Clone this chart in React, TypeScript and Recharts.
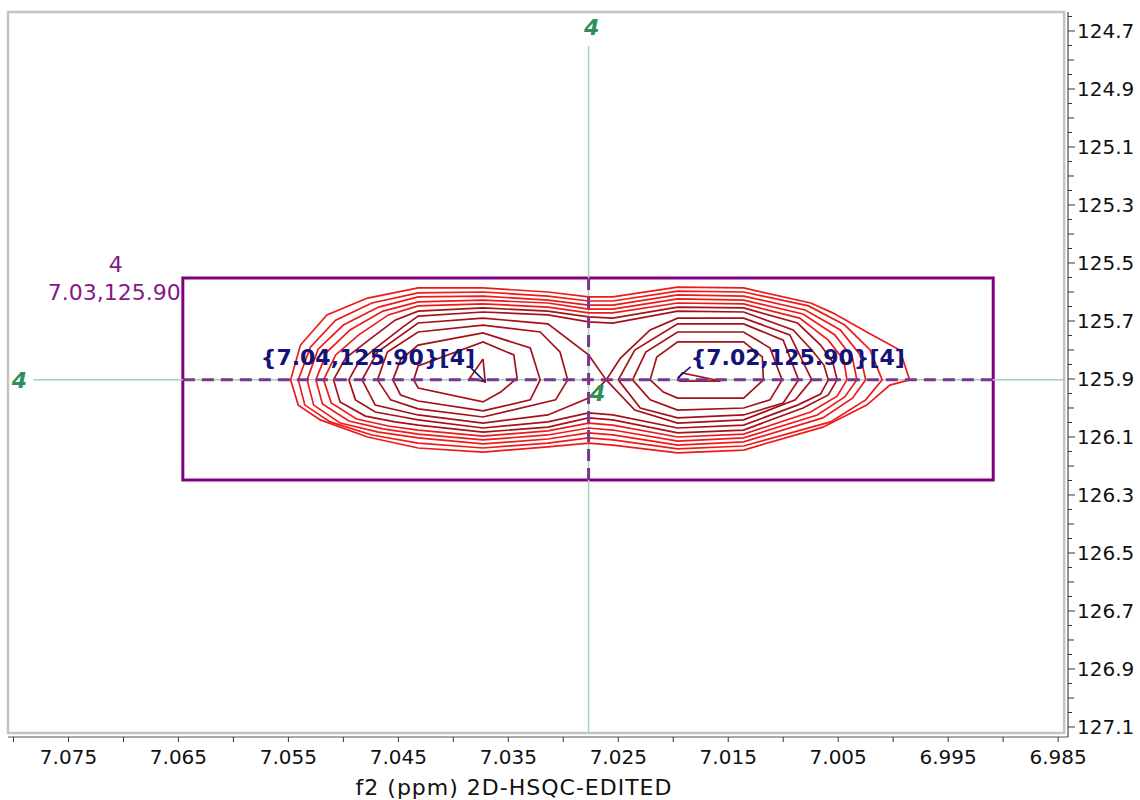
import React from 'react';
import {
  ComposedChart, Line, XAxis, YAxis, ReferenceLine, ReferenceArea, ReferenceDot,
} from 'recharts';

type Pt = [number, number];

// axis ticks (ppm)
const X_LABELS = [7.075, 7.065, 7.055, 7.045, 7.035, 7.025, 7.015, 7.005, 6.995, 6.985];
const X_MINOR = [7.08, 7.07, 7.06, 7.05, 7.04, 7.03, 7.02, 7.01, 7.0, 6.99];
const Y_LABELS = [124.7, 124.9, 125.1, 125.3, 125.5, 125.7, 125.9, 126.1, 126.3, 126.5, 126.7, 126.9, 127.1];
const X_DOMAIN = [6.9841, 7.0805];
const Y_DOMAIN = [124.6345, 127.1345];
const FRAME_X = [7.0805, 6.98445];
const FRAME_Y = [124.6345, 127.1207];

// peak picking / integration region
const CROSS_X = 7.0277;
const CROSS_Y = 125.903;
const BOX_X = [7.0646, 6.9909];
const BOX_Y = [125.552, 126.248];
const BOX_LABEL = ['4', '7.03,125.90'];
const PEAK_X = [7.0373, 7.0196];
const PEAK_Y = [125.903, 125.903];
const PEAK_LABELS = ['{7.04,125.90}[4]', '{7.02,125.90}[4]'];

// contour levels, outer to inner (f2 ppm, f1 ppm)
const S1: Pt[] = [[7.0548,125.903],[7.0539,125.783],[7.0515,125.679],[7.0478,125.621],[7.0432,125.586],[7.0373,125.586],[7.0314,125.600],[7.0277,125.617],[7.0255,125.617],[7.0196,125.583],[7.0136,125.586],[7.0075,125.638],[7.0055,125.672],[7.0024,125.738],[6.9994,125.800],[6.9985,125.903],[7.0003,125.921],[7.0024,125.990],[7.0064,126.066],[7.0136,126.145],[7.0196,126.155],[7.0255,126.128],[7.0277,126.121],[7.0314,126.134],[7.0373,126.152],[7.0432,126.138],[7.0478,126.100],[7.0521,126.041],[7.0541,125.990]];
const S2: Pt[] = [[7.0541,125.903],[7.0530,125.790],[7.0507,125.697],[7.0474,125.638],[7.0432,125.603],[7.0373,125.600],[7.0314,125.614],[7.0277,125.631],[7.0255,125.631],[7.0196,125.597],[7.0136,125.600],[7.0077,125.648],[7.0044,125.714],[7.0021,125.800],[7.0010,125.903],[7.0025,125.972],[7.0057,126.048],[7.0136,126.131],[7.0196,126.141],[7.0255,126.110],[7.0277,126.103],[7.0314,126.121],[7.0373,126.138],[7.0432,126.121],[7.0474,126.093],[7.0512,126.048],[7.0535,125.990]];
const S3: Pt[] = [[7.0533,125.903],[7.0523,125.797],[7.0500,125.714],[7.0468,125.652],[7.0432,125.617],[7.0373,125.614],[7.0314,125.628],[7.0277,125.645],[7.0255,125.645],[7.0196,125.610],[7.0136,125.614],[7.0080,125.662],[7.0048,125.731],[7.0030,125.817],[7.0025,125.903],[7.0037,125.966],[7.0064,126.034],[7.0136,126.117],[7.0196,126.128],[7.0255,126.093],[7.0277,126.086],[7.0314,126.107],[7.0373,126.124],[7.0432,126.103],[7.0468,126.083],[7.0503,126.052],[7.0527,125.990]];
const S4: Pt[] = [[7.0525,125.903],[7.0515,125.807],[7.0494,125.731],[7.0464,125.666],[7.0432,125.634],[7.0373,125.628],[7.0314,125.638],[7.0277,125.659],[7.0255,125.659],[7.0196,125.624],[7.0136,125.628],[7.0082,125.676],[7.0053,125.748],[7.0037,125.828],[7.0033,125.903],[7.0044,125.962],[7.0069,126.024],[7.0136,126.103],[7.0196,126.114],[7.0255,126.076],[7.0277,126.069],[7.0314,126.093],[7.0373,126.110],[7.0432,126.090],[7.0464,126.072],[7.0495,126.045],[7.0519,125.986]];
const S5: Pt[] = [[7.0518,125.903],[7.0507,125.817],[7.0486,125.748],[7.0459,125.679],[7.0432,125.648],[7.0373,125.641],[7.0314,125.652],[7.0277,125.672],[7.0255,125.672],[7.0196,125.638],[7.0136,125.641],[7.0085,125.690],[7.0059,125.766],[7.0045,125.834],[7.0042,125.903],[7.0051,125.959],[7.0075,126.014],[7.0136,126.090],[7.0196,126.100],[7.0255,126.059],[7.0277,126.052],[7.0314,126.079],[7.0373,126.097],[7.0432,126.076],[7.0459,126.062],[7.0488,126.038],[7.0511,125.983]];
const S6: Pt[] = [[7.0509,125.903],[7.0498,125.828],[7.0477,125.766],[7.0453,125.697],[7.0432,125.666],[7.0373,125.655],[7.0314,125.666],[7.0277,125.686],[7.0255,125.690],[7.0196,125.652],[7.0136,125.655],[7.0087,125.707],[7.0066,125.783],[7.0055,125.841],[7.0051,125.903],[7.0059,125.955],[7.0082,126.000],[7.0136,126.076],[7.0196,126.086],[7.0255,126.041],[7.0277,126.034],[7.0314,126.066],[7.0373,126.083],[7.0432,126.059],[7.0453,126.048],[7.0480,126.028],[7.0503,125.979]];
const S7: Pt[] = [[7.0495,125.903],[7.0486,125.841],[7.0468,125.786],[7.0446,125.721],[7.0432,125.683],[7.0373,125.669],[7.0314,125.679],[7.0277,125.703],[7.0255,125.707],[7.0196,125.666],[7.0136,125.669],[7.0091,125.731],[7.0074,125.800],[7.0063,125.852],[7.0059,125.903],[7.0066,125.952],[7.0087,125.990],[7.0136,126.059],[7.0196,126.069],[7.0255,126.024],[7.0277,126.017],[7.0314,126.048],[7.0373,126.069],[7.0432,126.041],[7.0446,126.031],[7.0471,126.014],[7.0489,125.972]];
// saddle level (figure eight)
const SADDLE: Pt[] = [[7.0261,125.903],[7.0277,125.817],[7.0314,125.710],[7.0373,125.690],[7.0432,125.707],[7.0469,125.807],[7.0483,125.903],[7.0471,125.990],[7.0432,126.024],[7.0373,126.052],[7.0314,126.024],[7.0277,125.966],[7.0261,125.903],[7.0248,125.828],[7.0221,125.731],[7.0196,125.690],[7.0136,125.690],[7.0094,125.748],[7.0074,125.903],[7.0089,125.972],[7.0136,126.041],[7.0196,126.052],[7.0235,126.007]];
// left peak
const P1A: Pt[] = [[7.0469,125.903],[7.0460,125.807],[7.0432,125.738],[7.0373,125.714],[7.0321,125.738],[7.0303,125.807],[7.0296,125.903],[7.0307,125.972],[7.0373,126.031],[7.0432,126.003],[7.0457,125.972]];
const P1B: Pt[] = [[7.0455,125.903],[7.0448,125.834],[7.0432,125.783],[7.0373,125.741],[7.0330,125.793],[7.0321,125.903],[7.0330,125.972],[7.0373,126.010],[7.0432,125.976],[7.0448,125.955]];
const P1C: Pt[] = [[7.0436,125.903],[7.0432,125.855],[7.0373,125.772],[7.0345,125.817],[7.0342,125.897],[7.0357,125.945],[7.0373,125.979],[7.0432,125.931]];
const P1D: Pt[] = [[7.0373,125.831],[7.0385,125.897],[7.0371,125.910]];
// right peak
const P2A: Pt[] = [[7.0250,125.903],[7.0235,125.800],[7.0196,125.710],[7.0136,125.710],[7.0100,125.766],[7.0086,125.903],[7.0100,125.983],[7.0136,126.024],[7.0196,126.034],[7.0230,126.000]];
const P2B: Pt[] = [[7.0237,125.903],[7.0225,125.807],[7.0196,125.738],[7.0136,125.738],[7.0112,125.793],[7.0101,125.903],[7.0112,125.972],[7.0136,126.000],[7.0196,126.007],[7.0221,125.972]];
const P2C: Pt[] = [[7.0221,125.903],[7.0215,125.824],[7.0196,125.772],[7.0136,125.772],[7.0119,125.824],[7.0118,125.903],[7.0136,125.966],[7.0196,125.966],[7.0209,125.945]];
const P2D: Pt[] = [[7.0196,125.903],[7.0192,125.879],[7.0157,125.907],[7.0194,125.907]];

const LIGHT = '#ee1a1a';
const DARK = '#a3121a';

const CONTOURS: { pts: Pt[]; color: string }[] = [
  { pts: S1, color: LIGHT }, { pts: S2, color: LIGHT }, { pts: S3, color: LIGHT },
  { pts: S4, color: LIGHT }, { pts: S5, color: LIGHT }, { pts: S6, color: DARK },
  { pts: S7, color: DARK }, { pts: SADDLE, color: DARK },
  { pts: P1A, color: DARK }, { pts: P1B, color: DARK }, { pts: P1C, color: DARK }, { pts: P1D, color: DARK },
  { pts: P2A, color: DARK }, { pts: P2B, color: DARK }, { pts: P2C, color: DARK }, { pts: P2D, color: DARK },
];

const FONT = '"DejaVu Sans", Verdana, sans-serif';
const GREEN = '#2f8f5b';
const PURPLE = '#851a85';
const NAVY = '#13137a';

const near = (a: number, list: number[]) => list.some((v) => Math.abs(v - a) < 1e-6);

const Y_MINOR = Y_LABELS.flatMap((m) => [m - 0.05, m + 0.05, m + 0.1, m + 0.15])
  .filter((v) => v > Y_DOMAIN[0] && v < Y_DOMAIN[1]);

const XTick = (p: any) => {
  const v = p.payload.value;
  const lab = near(v, X_LABELS);
  return (
    <g>
      <line x1={p.x} x2={p.x} y1={p.y} y2={p.y + 5} stroke="#333" />
      {lab && (
        <text x={p.x} y={p.y + 27} textAnchor="middle" fontSize={20} fontFamily={FONT} fill="#111">
          {v.toFixed(3)}
        </text>
      )}
    </g>
  );
};

const YTick = (p: any) => {
  const v = p.payload.value;
  const lab = near(v, Y_LABELS);
  const half = Math.abs(Math.round(v * 20) % 2) === 0;
  const len = lab ? 7 : half ? 6 : 4;
  return (
    <g>
      <line x1={p.x} x2={p.x + len} y1={p.y} y2={p.y} stroke="#333" />
      {lab && (
        <text x={p.x + 9} y={p.y + 7} textAnchor="start" fontSize={20} fontFamily={FONT} fill="#111">
          {v.toFixed(1)}
        </text>
      )}
    </g>
  );
};

const greenFour = (dx: number, dy: number) => (p: any) => (
  <text x={p.cx + dx} y={p.cy + dy} textAnchor="middle" fontSize={22} fontWeight="bold"
    fontStyle="italic" fontFamily={FONT} fill={GREEN}>4</text>
);

export default function App() {
  return (
    <div style={{ position: 'absolute', left: 0, top: 0, width: 1140, height: 800, background: '#fff' }}>
      <ComposedChart width={1140} height={800} margin={{ top: 12, right: 2, bottom: 5, left: 8 }}>
        <XAxis
          type="number" dataKey="x" domain={X_DOMAIN} reversed allowDataOverflow
          ticks={[...X_LABELS, ...X_MINOR]} interval={0} height={58}
          tick={<XTick />} tickLine={false} tickSize={0} tickMargin={0}
          axisLine={{ stroke: '#555' }}
          label={{
            value: 'f2 (ppm) 2D-HSQC-EDITED',
            content: (lp: any) => (
              <text x={lp.viewBox.x + lp.viewBox.width / 2 - 24} y={lp.viewBox.y + 58} textAnchor="middle"
                fontSize={22} letterSpacing={1} fontFamily={FONT} fill="#111">f2 (ppm) 2D-HSQC-EDITED</text>
            ),
          }}
        />
        <YAxis
          type="number" dataKey="y" orientation="right" domain={Y_DOMAIN} reversed allowDataOverflow
          ticks={[...Y_LABELS, ...Y_MINOR]} interval={0} width={70}
          tick={<YTick />} tickLine={false} tickSize={0} tickMargin={0}
          axisLine={{ stroke: '#222' }}
        />
        <ReferenceArea x1={FRAME_X[0]} x2={FRAME_X[1]} y1={FRAME_Y[0]} y2={FRAME_Y[1]}
          fill="none" fillOpacity={0} stroke="#c4c4c4" strokeWidth={2.5} ifOverflow="visible" />
        <ReferenceLine segment={[{ x: CROSS_X, y: 124.752 }, { x: CROSS_X, y: FRAME_Y[1] }]}
          stroke="#a3d3bb" strokeWidth={1.5} ifOverflow="visible" />
        <ReferenceLine segment={[{ x: 7.0782, y: CROSS_Y }, { x: FRAME_X[1], y: CROSS_Y }]}
          stroke="#a3d3bb" strokeWidth={1.5} ifOverflow="visible" />
        {CONTOURS.map((c, i) => (
          <Line
            key={i}
            data={[...c.pts, c.pts[0]].map(([x, y]) => ({ x, y }))}
            dataKey="y" type="linear" stroke={c.color} strokeWidth={1.7}
            dot={false} activeDot={false} isAnimationActive={false} legendType="none"
          />
        ))}
        <ReferenceArea x1={BOX_X[0]} x2={BOX_X[1]} y1={BOX_Y[0]} y2={BOX_Y[1]}
          fill="none" fillOpacity={0} stroke="#800080" strokeWidth={3} ifOverflow="visible" />
        <ReferenceLine segment={[{ x: BOX_X[0], y: CROSS_Y }, { x: BOX_X[1], y: CROSS_Y }]}
          stroke="#7a3590" strokeWidth={3} strokeDasharray="12 7" ifOverflow="visible" />
        <ReferenceLine segment={[{ x: CROSS_X, y: BOX_Y[0] }, { x: CROSS_X, y: BOX_Y[1] }]}
          stroke="#7a3590" strokeWidth={3} strokeDasharray="12 7" ifOverflow="visible" />
        <ReferenceDot x={BOX_X[0]} y={BOX_Y[0]} r={1} ifOverflow="visible"
          shape={(p: any) => (
            <g fontFamily={FONT} fontSize={22} fill={PURPLE}>
              <text x={p.cx - 67} y={p.cy - 6} textAnchor="middle">{BOX_LABEL[0]}</text>
              <text x={p.cx - 2} y={p.cy + 22} textAnchor="end">{BOX_LABEL[1]}</text>
            </g>
          )}
        />
        {PEAK_X.map((px, i) => (
          <ReferenceDot key={i} x={px} y={PEAK_Y[i]} r={1} ifOverflow="visible"
            shape={(p: any) => (
              <g>
                {i === 0
                  ? <line x1={p.cx - 13} y1={p.cy - 13} x2={p.cx + 2} y2={p.cy + 2} stroke={NAVY} strokeWidth={1.5} />
                  : <line x1={p.cx + 13} y1={p.cy - 13} x2={p.cx} y2={p.cy - 2} stroke={NAVY} strokeWidth={1.5} />}
                <text x={i === 0 ? p.cx - 8 : p.cx + 13} y={p.cy - 15} textAnchor={i === 0 ? 'end' : 'start'}
                  fontFamily={FONT} fontSize={22} fontWeight="bold" fill={NAVY}>{PEAK_LABELS[i]}</text>
              </g>
            )}
          />
        ))}
        <ReferenceDot x={CROSS_X} y={124.752} r={1} ifOverflow="visible" shape={greenFour(3, -11)} />
        <ReferenceDot x={7.0782} y={CROSS_Y} r={1} ifOverflow="visible" shape={greenFour(-14, 8)} />
        <ReferenceDot x={CROSS_X} y={CROSS_Y} r={1} ifOverflow="visible" shape={greenFour(9, 21)} />
      </ComposedChart>
    </div>
  );
}
